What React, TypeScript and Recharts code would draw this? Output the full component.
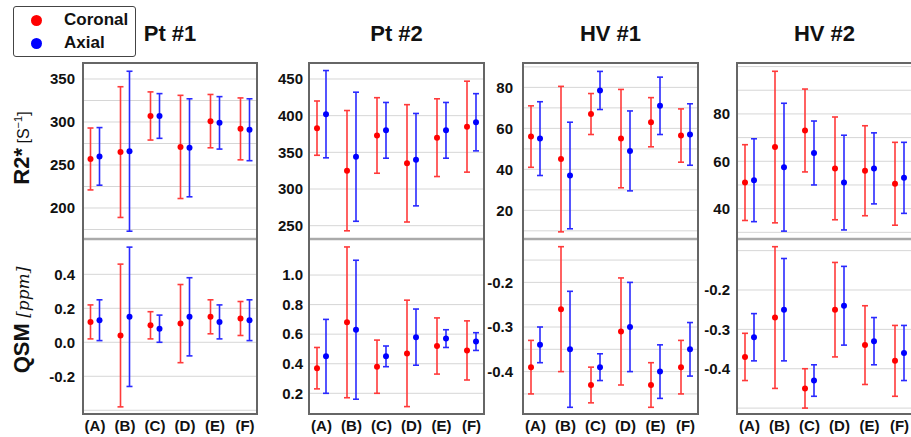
import React from 'react';
import { ScatterChart, Scatter, XAxis, YAxis, CartesianGrid, ErrorBar } from 'recharts';

const categories = ['(A)', '(B)', '(C)', '(D)', '(E)', '(F)'];
const titles = ['Pt #1', 'Pt #2', 'HV #1', 'HV #2'];

// R2* (s^-1): mean and SD per segment
const pt1R2Cor = [257, 265, 307, 271, 301, 292];
const pt1R2CorSd = [36, 76, 28, 60, 31, 36];
const pt1R2Ax = [260, 266, 307, 270, 299, 291];
const pt1R2AxSd = [33.5, 93, 26, 57, 30.5, 36];
const pt2R2Cor = [383, 325, 373, 335, 370, 385];
const pt2R2CorSd = [37, 82, 51.5, 80, 53, 62];
const pt2R2Ax = [402, 344, 380, 340, 380, 391];
const pt2R2AxSd = [59.5, 88, 38, 63, 38, 39];
const hv1R2Cor = [56, 45, 67, 55, 63, 56.5];
const hv1R2CorSd = [15, 35.5, 10, 24, 12, 13];
const hv1R2Ax = [55, 37, 78.5, 49, 71, 57];
const hv1R2AxSd = [18, 26, 9.3, 19.5, 14, 15];
const hv2R2Cor = [51, 66, 73, 57, 56, 50.5];
const hv2R2CorSd = [16, 32, 17.5, 21.7, 19, 17.5];
const hv2R2Ax = [52, 57.5, 63.5, 51, 57, 53];
const hv2R2AxSd = [17.5, 27, 13.5, 20, 15, 15];

// QSM (ppm): mean and SD per segment
const pt1QsmCor = [0.12, 0.04, 0.1, 0.11, 0.15, 0.14];
const pt1QsmCorSd = [0.1, 0.42, 0.08, 0.23, 0.1, 0.1];
const pt1QsmAx = [0.13, 0.15, 0.08, 0.15, 0.12, 0.13];
const pt1QsmAxSd = [0.12, 0.41, 0.08, 0.23, 0.1, 0.12];
const pt2QsmCor = [0.37, 0.68, 0.38, 0.47, 0.52, 0.49];
const pt2QsmCorSd = [0.14, 0.51, 0.18, 0.36, 0.19, 0.2];
const pt2QsmAx = [0.45, 0.63, 0.45, 0.58, 0.57, 0.55];
const pt2QsmAxSd = [0.25, 0.47, 0.07, 0.19, 0.06, 0.06];
const hv1QsmCor = [-0.39, -0.26, -0.43, -0.31, -0.43, -0.39];
const hv1QsmCorSd = [0.06, 0.14, 0.04, 0.12, 0.05, 0.06];
const hv1QsmAx = [-0.34, -0.35, -0.39, -0.3, -0.4, -0.35];
const hv1QsmAxSd = [0.04, 0.13, 0.03, 0.1, 0.06, 0.06];
const hv2QsmCor = [-0.37, -0.27, -0.45, -0.25, -0.34, -0.38];
const hv2QsmCorSd = [0.06, 0.18, 0.05, 0.12, 0.1, 0.09];
const hv2QsmAx = [-0.32, -0.25, -0.43, -0.24, -0.33, -0.36];
const hv2QsmAxSd = [0.06, 0.13, 0.04, 0.1, 0.06, 0.07];

// grid values and labelled ticks
const pt1R2Grid = [175, 200, 225, 250, 275, 300, 325, 350];
const pt1R2Ticks = [200, 250, 300, 350];
const pt2R2Grid = [250, 300, 350, 400, 450];
const pt2R2Ticks = [250, 300, 350, 400, 450];
const hv1R2Grid = [10, 20, 30, 40, 50, 60, 70, 80, 90];
const hv1R2Ticks = [20, 40, 60, 80];
const hv2R2Grid = [30, 40, 50, 60, 70, 80, 90, 100];
const hv2R2Ticks = [40, 60, 80];
const pt1QsmGrid = [-0.4, -0.2, 0, 0.2, 0.4];
const pt1QsmTicks = [-0.2, 0, 0.2, 0.4];
const pt2QsmGrid = [0.2, 0.4, 0.6, 0.8, 1.0];
const pt2QsmTicks = [0.2, 0.4, 0.6, 0.8, 1.0];
const hv1QsmGrid = [-0.45, -0.4, -0.35, -0.3, -0.25, -0.2, -0.15];
const hv1QsmTicks = [-0.4, -0.3, -0.2];
const hv2QsmGrid = [-0.5, -0.4, -0.3, -0.2, -0.1];
const hv2QsmTicks = [-0.4, -0.3, -0.2];

const FONT = "'Liberation Sans', Arial, sans-serif";
const RED = '#ff0000';
const BLUE = '#0000ff';
const PLOT_TOP = 63;
const SPLIT = 238;
const LOW_TOP = 240;
const PLOT_BOTTOM = 414;

const columns = [
  { left: 83, width: 174, gap: 8, frameRight: true,
    r2: [pt1R2Cor, pt1R2CorSd, pt1R2Ax, pt1R2AxSd], r2Domain: [165.1, 368.6], r2Grid: pt1R2Grid, r2Ticks: pt1R2Ticks, r2Fmt: (v: number) => String(v),
    qsm: [pt1QsmCor, pt1QsmCorSd, pt1QsmAx, pt1QsmAxSd], qsmDomain: [-0.422, 0.602], qsmGrid: pt1QsmGrid, qsmTicks: pt1QsmTicks, qsmFmt: (v: number) => v.toFixed(1) },
  { left: 309, width: 175, gap: 6, frameRight: true,
    r2: [pt2R2Cor, pt2R2CorSd, pt2R2Ax, pt2R2AxSd], r2Domain: [233.2, 471.8], r2Grid: pt2R2Grid, r2Ticks: pt2R2Ticks, r2Fmt: (v: number) => String(v),
    qsm: [pt2QsmCor, pt2QsmCorSd, pt2QsmAx, pt2QsmAxSd], qsmDomain: [0.06, 1.237], qsmGrid: pt2QsmGrid, qsmTicks: pt2QsmTicks, qsmFmt: (v: number) => v.toFixed(1) },
  { left: 523, width: 175, gap: 10, frameRight: true,
    r2: [hv1R2Cor, hv1R2CorSd, hv1R2Ax, hv1R2AxSd], r2Domain: [6.5, 91.9], r2Grid: hv1R2Grid, r2Ticks: hv1R2Ticks, r2Fmt: (v: number) => String(v),
    qsm: [hv1QsmCor, hv1QsmCorSd, hv1QsmAx, hv1QsmAxSd], qsmDomain: [-0.495, -0.105], qsmGrid: hv1QsmGrid, qsmTicks: hv1QsmTicks, qsmFmt: (v: number) => v.toFixed(1) },
  { left: 737, width: 175, gap: 7, frameRight: false,
    r2: [hv2R2Cor, hv2R2CorSd, hv2R2Ax, hv2R2AxSd], r2Domain: [27.6, 101.5], r2Grid: hv2R2Grid, r2Ticks: hv2R2Ticks, r2Fmt: (v: number) => String(v),
    qsm: [hv2QsmCor, hv2QsmCorSd, hv2QsmAx, hv2QsmAxSd], qsmDomain: [-0.515, -0.073], qsmGrid: hv2QsmGrid, qsmTicks: hv2QsmTicks, qsmFmt: (v: number) => v.toFixed(1) },
];

const Dot = (color: string) => (props: any) => <circle cx={props.cx} cy={props.cy} r={3} fill={color} />;

function SubPlot({ left, top, width, height, domain, grid, ticks, fmt, series, gap, showX }: any) {
  const yw = 60;
  const xh = showX ? 24 : 0;
  const pad = (width / 30 - 5) / 2;
  const [cor, corSd, ax, axSd] = series;
  const corData = cor.map((v: number, i: number) => ({ x: i - 0.15, y: v, sd: corSd[i] }));
  const axData = ax.map((v: number, i: number) => ({ x: i + 0.15, y: v, sd: axSd[i] }));
  const label = (v: number) => (ticks.some((t: number) => Math.abs(t - v) < 1e-9) ? fmt(v) : '');
  return (
    <div style={{ position: 'absolute', left: left - yw, top }}>
      <ScatterChart width={yw + width} height={height + xh} margin={{ top: 0, right: 0, bottom: 0, left: 0 }}>
        <CartesianGrid vertical={false} stroke="#d6d6d6" />
        <XAxis
          type="number"
          dataKey="x"
          domain={[-pad, 5 + pad]}
          ticks={[0, 1, 2, 3, 4, 5]}
          allowDataOverflow
          hide={!showX}
          height={xh}
          axisLine={false}
          tickLine={false}
          tickSize={0}
          tickMargin={6}
          tickFormatter={(v: number) => categories[Math.round(v)]}
          tick={{ fill: '#111', fontSize: 15, fontWeight: 'bold', fontFamily: FONT }}
        />
        <YAxis
          type="number"
          dataKey="y"
          domain={domain}
          ticks={grid}
          allowDataOverflow
          width={yw}
          axisLine={false}
          tickLine={false}
          tickSize={0}
          tickMargin={gap}
          interval={0}
          tickFormatter={label}
          tick={{ fill: '#111', fontSize: 15, fontWeight: 'bold', fontFamily: FONT }}
        />
        <Scatter data={corData} fill={RED} shape={Dot(RED)} isAnimationActive={false}>
          <ErrorBar dataKey="sd" direction="y" width={3} stroke="#ff3a3a" strokeWidth={1.6} isAnimationActive={false} />
        </Scatter>
        <Scatter data={axData} fill={BLUE} shape={Dot(BLUE)} isAnimationActive={false}>
          <ErrorBar dataKey="sd" direction="y" width={3} stroke="#2a2aff" strokeWidth={1.6} isAnimationActive={false} />
        </Scatter>
      </ScatterChart>
    </div>
  );
}

export default function App() {
  return (
    <div style={{ position: 'absolute', left: 0, top: 0, width: 911, height: 437, background: '#fff', overflow: 'hidden', fontFamily: FONT }}>
      {/* legend */}
      <div style={{ position: 'absolute', left: 13, top: 6, width: 123, height: 51, border: '1px solid #444', borderRadius: 3, boxSizing: 'border-box' }}>
        <div style={{ position: 'absolute', left: 17, top: 8, width: 11, height: 11, borderRadius: '50%', background: RED }} />
        <div style={{ position: 'absolute', left: 17, top: 31, width: 11, height: 11, borderRadius: '50%', background: BLUE }} />
        <div style={{ position: 'absolute', left: 50, top: 3, fontSize: 17, fontWeight: 'bold', color: '#111' }}>Coronal</div>
        <div style={{ position: 'absolute', left: 50, top: 26, fontSize: 17, fontWeight: 'bold', color: '#111' }}>Axial</div>
      </div>

      {/* y labels */}
      <svg width={45} height={437} style={{ position: 'absolute', left: 0, top: 0 }}>
        <text transform="translate(29,148) rotate(-90)" textAnchor="middle" fill="#111">
          <tspan fontFamily={FONT} fontWeight="bold" fontSize={22}>R2*</tspan>
          <tspan fontFamily={FONT} fontSize={16}> [S</tspan>
          <tspan fontFamily={FONT} fontSize={11} dy={-7}>−1</tspan>
          <tspan fontFamily={FONT} fontSize={16} dy={7}>]</tspan>
        </text>
        <text transform="translate(29,320) rotate(-90)" textAnchor="middle" fill="#111">
          <tspan fontFamily={FONT} fontWeight="bold" fontSize={22}>QSM</tspan>
          <tspan fontFamily="'DejaVu Serif', 'Liberation Serif', serif" fontStyle="italic" fontSize={17}> [ppm]</tspan>
        </text>
      </svg>

      {columns.map((c, k) => (
        <React.Fragment key={k}>
          <div style={{ position: 'absolute', left: c.left, width: c.width, top: 21, textAlign: 'center', fontSize: 22, fontWeight: 'bold', color: '#111' }}>
            {titles[k]}
          </div>
          <SubPlot left={c.left} top={PLOT_TOP} width={c.width} height={SPLIT - PLOT_TOP} domain={c.r2Domain} grid={c.r2Grid}
            ticks={c.r2Ticks} fmt={c.r2Fmt} series={c.r2} gap={c.gap} showX={false} />
          <SubPlot left={c.left} top={LOW_TOP} width={c.width} height={PLOT_BOTTOM - LOW_TOP} domain={c.qsmDomain} grid={c.qsmGrid}
            ticks={c.qsmTicks} fmt={c.qsmFmt} series={c.qsm} gap={c.gap} showX />
          <div style={{ position: 'absolute', left: c.left, top: SPLIT, width: c.width, height: 2, background: '#aaa' }} />
          <div style={{
            position: 'absolute', left: c.left - 1, top: PLOT_TOP - 1, width: c.width + 2, height: PLOT_BOTTOM - PLOT_TOP + 2,
            border: '2px solid #666', borderRight: c.frameRight ? '2px solid #666' : 'none', boxSizing: 'border-box', pointerEvents: 'none',
          }} />
        </React.Fragment>
      ))}
    </div>
  );
}
